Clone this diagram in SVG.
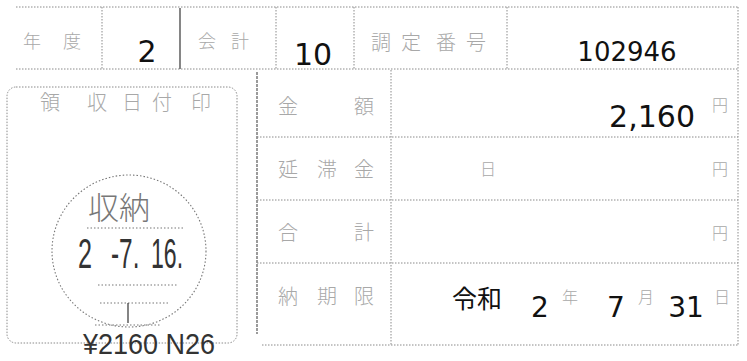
<svg xmlns="http://www.w3.org/2000/svg" width="747" height="361" viewBox="0 0 747 361">
<style>
.bg{fill:#ffffff}
.ln{stroke:#8a8a8a;stroke-width:1;stroke-dasharray:1.5 1.5;fill:none}
.dk{stroke:#444;stroke-width:1.3;fill:none}
.lbl{font-family:"Noto Sans CJK JP","Noto Sans CJK SC",sans-serif;fill:#a8a8a8;text-anchor:middle;font-weight:300}
.val{font-family:"DejaVu Sans","Liberation Sans",sans-serif;fill:#111;text-anchor:middle}
.jp{font-family:"Noto Sans CJK JP","Noto Sans CJK SC",sans-serif;fill:#111}
.st{font-family:"Liberation Sans",Arial,sans-serif;fill:#333}
.stl{stroke:#777;stroke-width:1.1;stroke-dasharray:1.5 2;fill:none}
</style>
<rect class="bg" x="0" y="0" width="747" height="361"/>
<g id="grid">
<line class="ln" x1="16" y1="7" x2="738" y2="7"/>
<line class="ln" x1="16" y1="69" x2="738" y2="69"/>
<line class="ln" x1="102" y1="7" x2="102" y2="69"/>
<line class="dk" x1="180" y1="8" x2="180" y2="69"/>
<line class="ln" x1="276" y1="7" x2="276" y2="69"/>
<line class="ln" x1="354" y1="7" x2="354" y2="69"/>
<line class="ln" x1="507" y1="7" x2="507" y2="69"/>
<line class="ln" x1="738" y1="7" x2="738" y2="345"/>
<rect class="ln" x="7" y="87" width="230" height="256" rx="9"/>
<line class="dk" x1="257" y1="72" x2="257" y2="334" style="stroke:#666;stroke-dasharray:3 1"/>
<line class="ln" x1="391" y1="70" x2="391" y2="345"/>
<line class="ln" x1="257" y1="137" x2="738" y2="137"/>
<line class="ln" x1="257" y1="200" x2="738" y2="200"/>
<line class="ln" x1="257" y1="263" x2="738" y2="263"/>
<line class="ln" x1="262" y1="345" x2="738" y2="345"/>
</g>
<g id="cell-nendo">
<text class="lbl" font-size="18" x="32" y="48">年</text>
<text class="lbl" font-size="18" x="72" y="48">度</text>
<text class="val" font-size="30" x="147" y="62">2</text>
</g>
<g id="cell-kaikei">
<text class="lbl" font-size="18" x="207" y="48">会</text>
<text class="lbl" font-size="18" x="240" y="48">計</text>
<text class="val" font-size="30" x="313" y="65">10</text>
</g>
<g id="cell-choutei">
<text class="lbl" font-size="20" x="381" y="50">調</text>
<text class="lbl" font-size="20" x="411" y="50">定</text>
<text class="lbl" font-size="20" x="446" y="50">番</text>
<text class="lbl" font-size="20" x="476" y="50">号</text>
<text class="val" font-size="26" x="627" y="61">102946</text>
</g>
<g id="cell-stamp">
<text class="lbl" font-size="20" x="50" y="110">領</text>
<text class="lbl" font-size="20" x="97" y="110">収</text>
<text class="lbl" font-size="20" x="132" y="110">日</text>
<text class="lbl" font-size="20" x="162" y="110">付</text>
<text class="lbl" font-size="20" x="201" y="110">印</text>
<ellipse class="stl" cx="129" cy="251" rx="77" ry="76"/>
<text font-family="Noto Sans CJK JP,sans-serif" font-size="31" fill="#777" font-weight="300" x="88" y="219">収納</text>
<line class="stl" x1="87" y1="228" x2="183" y2="228"/>
<text class="st" font-size="42" transform="translate(78,268) scale(0.6,1)">2</text>
<text class="st" font-size="42" transform="translate(111,268) scale(0.58,1)">-7.</text>
<text class="st" font-size="42" transform="translate(151,268) scale(0.55,1)">16.</text>
<line class="stl" x1="98" y1="285" x2="178" y2="285"/>
<line class="stl" x1="100" y1="303" x2="168" y2="303"/>
<line x1="128" y1="303" x2="128" y2="323" stroke="#333" stroke-width="1.2"/>
<line class="stl" x1="95" y1="325" x2="160" y2="325"/>
<text class="st" font-size="30" x="83" y="354" textLength="132" lengthAdjust="spacingAndGlyphs">¥2160 N26</text>
</g>
<g id="row-kingaku">
<text class="lbl" font-size="20" x="288" y="114">金</text>
<text class="lbl" font-size="20" x="364" y="114">額</text>
<text class="val" font-size="30" x="695" y="127" style="text-anchor:end">2,160</text>
<text class="lbl" font-size="16" x="720" y="111">円</text>
</g>
<g id="row-entaikin">
<text class="lbl" font-size="20" x="288" y="177">延</text>
<text class="lbl" font-size="20" x="327" y="177">滞</text>
<text class="lbl" font-size="20" x="364" y="177">金</text>
<text class="lbl" font-size="16" x="488" y="175">日</text>
<text class="lbl" font-size="16" x="720" y="175">円</text>
</g>
<g id="row-goukei">
<text class="lbl" font-size="20" x="288" y="240">合</text>
<text class="lbl" font-size="20" x="364" y="240">計</text>
<text class="lbl" font-size="16" x="720" y="239">円</text>
</g>
<g id="row-noukigen">
<text class="lbl" font-size="20" x="288" y="304">納</text>
<text class="lbl" font-size="20" x="327" y="304">期</text>
<text class="lbl" font-size="20" x="364" y="304">限</text>
<text class="jp" font-size="25" x="452" y="308">令和</text>
<text class="val" font-size="28" x="540" y="317">2</text>
<text class="lbl" font-size="16" x="570" y="303">年</text>
<text class="val" font-size="28" x="616" y="317">7</text>
<text class="lbl" font-size="16" x="646" y="303">月</text>
<text class="val" font-size="28" x="686" y="317">31</text>
<text class="lbl" font-size="16" x="722" y="303">日</text>
</g>
</svg>
